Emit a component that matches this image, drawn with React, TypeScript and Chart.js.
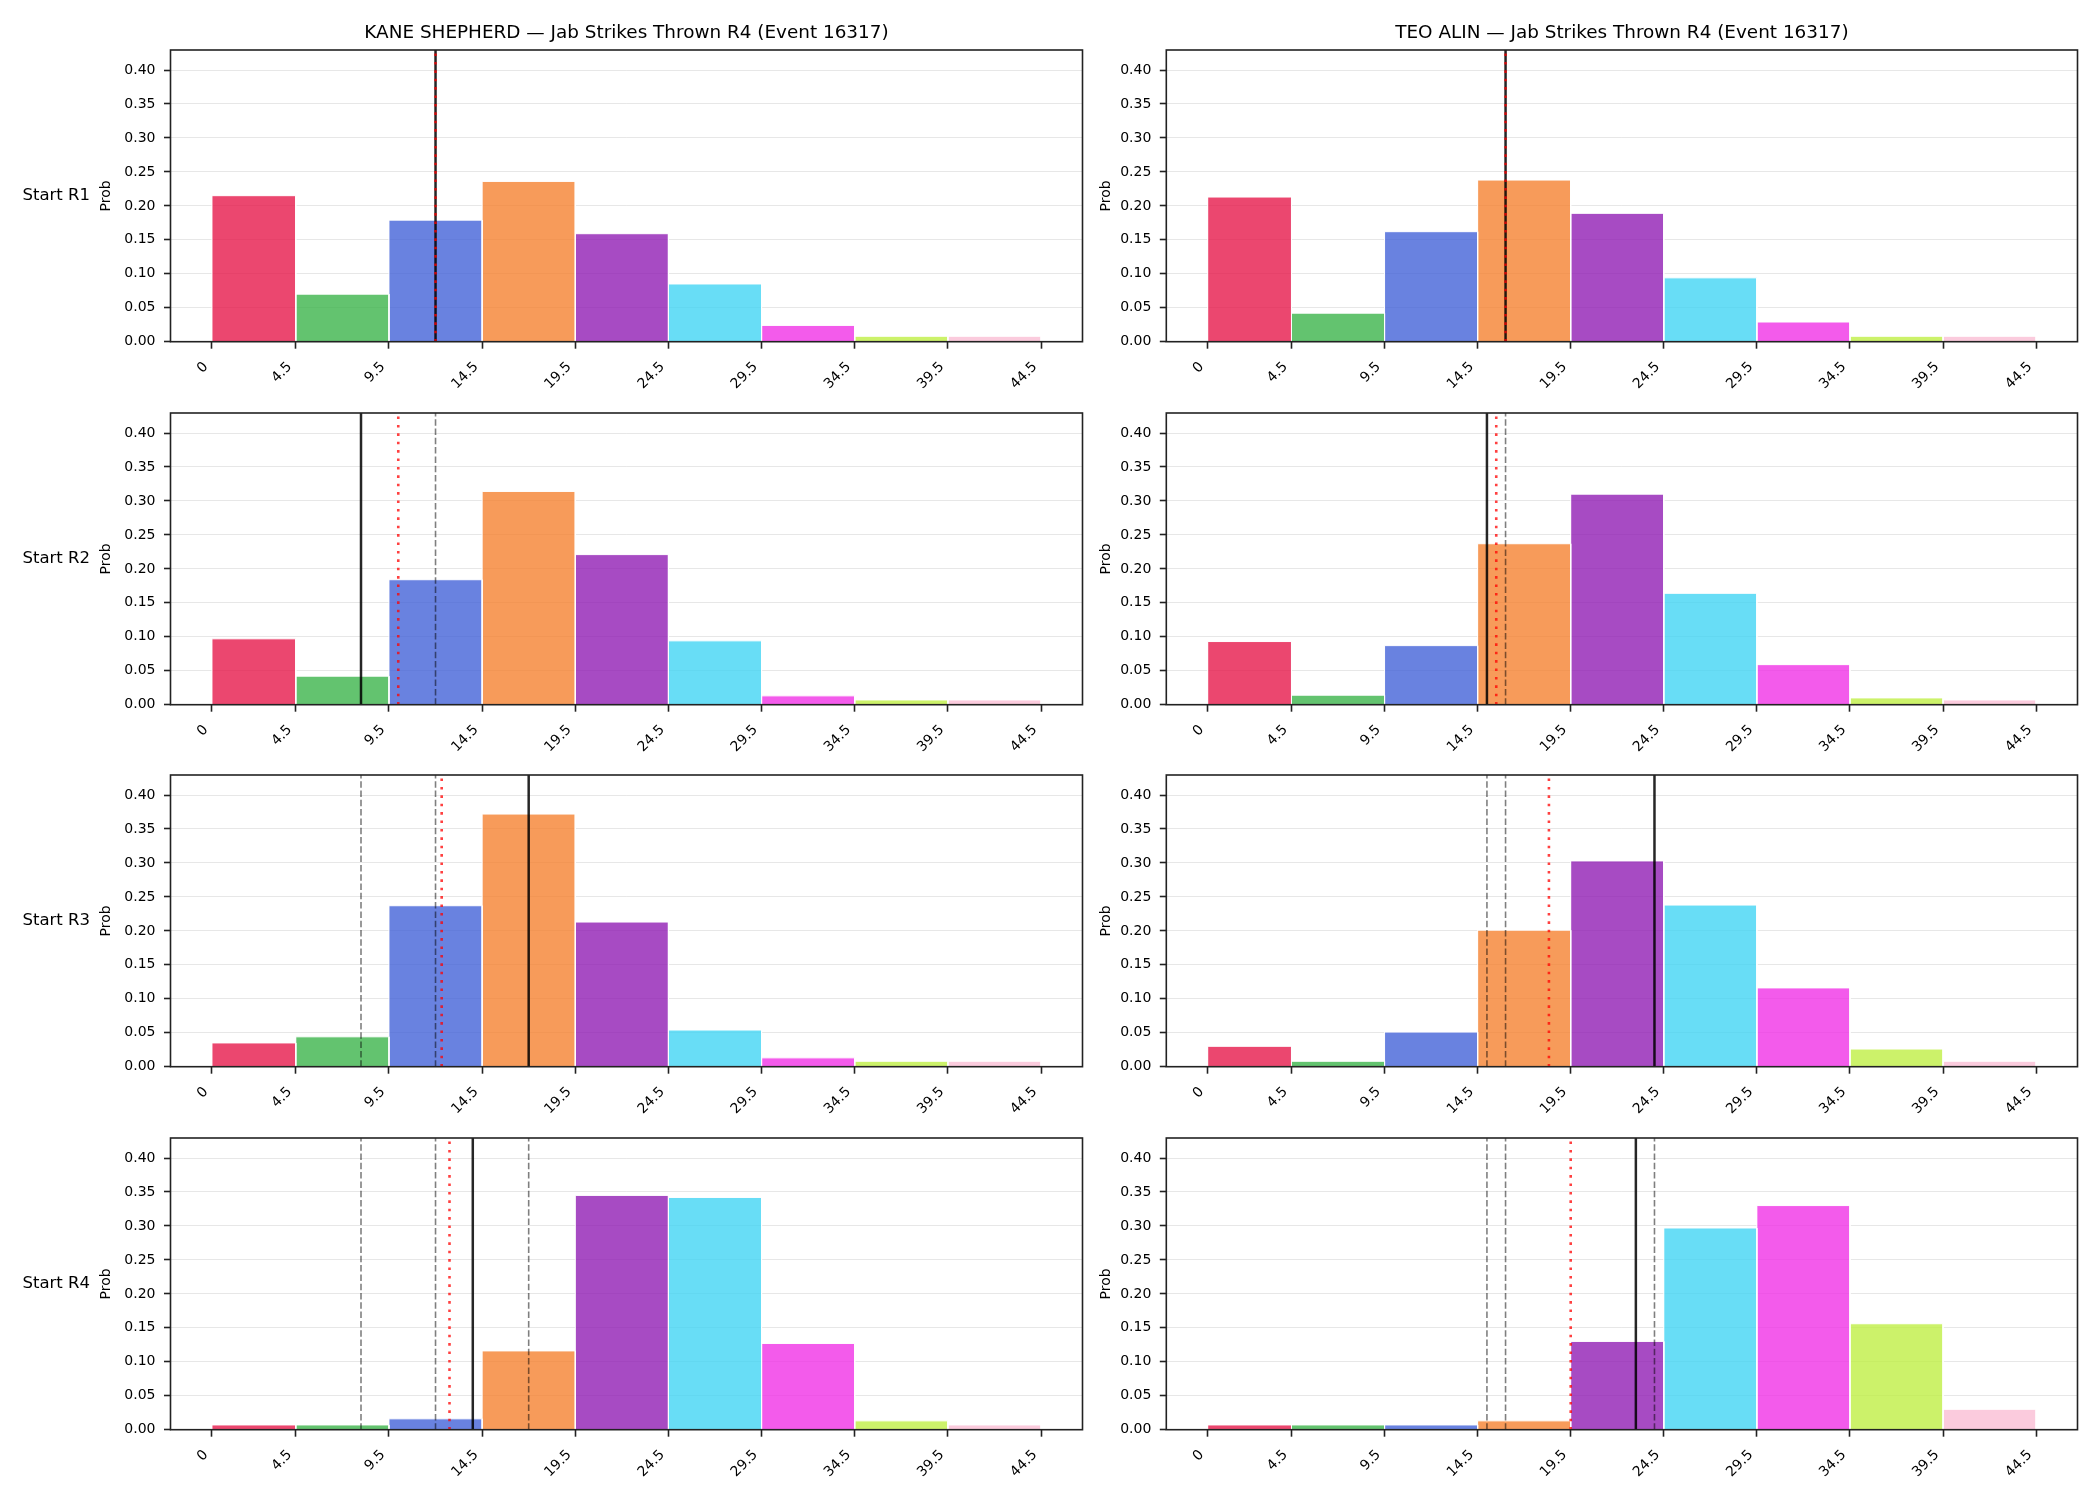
import React, { useEffect, useRef } from "react";
import { Chart, registerables } from "chart.js";

Chart.register(...registerables);

// ---------- data ----------
const binEdges = [0, 4.5, 9.5, 14.5, 19.5, 24.5, 29.5, 34.5, 39.5, 44.5];
const xTickLabels = ["0", "4.5", "9.5", "14.5", "19.5", "24.5", "29.5", "34.5", "39.5", "44.5"];
const yTickValues = [0, 0.05, 0.1, 0.15, 0.2, 0.25, 0.3, 0.35, 0.4];
const yTickLabels = ["0.00", "0.05", "0.10", "0.15", "0.20", "0.25", "0.30", "0.35", "0.40"];

const fighterNames = ["KANE SHEPHERD", "TEO ALIN"];
const titleSuffix = " — Jab Strikes Thrown R4 (Event 16317)";
const rowLabels = ["Start R1", "Start R2", "Start R3", "Start R4"];

const kaneR1 = [0.215, 0.070, 0.179, 0.236, 0.159, 0.085, 0.024, 0.008, 0.008];
const kaneR2 = [0.097, 0.042, 0.184, 0.314, 0.221, 0.094, 0.013, 0.007, 0.007];
const kaneR3 = [0.035, 0.044, 0.237, 0.372, 0.213, 0.054, 0.013, 0.008, 0.008];
const kaneR4 = [0.007, 0.007, 0.016, 0.116, 0.345, 0.342, 0.127, 0.013, 0.007];

const teoR1 = [0.213, 0.042, 0.162, 0.238, 0.189, 0.094, 0.029, 0.008, 0.008];
const teoR2 = [0.093, 0.014, 0.087, 0.237, 0.310, 0.164, 0.059, 0.010, 0.007];
const teoR3 = [0.030, 0.008, 0.051, 0.201, 0.303, 0.238, 0.116, 0.026, 0.008];
const teoR4 = [0.007, 0.007, 0.007, 0.013, 0.130, 0.297, 0.330, 0.156, 0.030];

// solid black line per start round; red dotted running mean
const kaneRoundMean = [12, 8, 17, 14];
const kaneRunningMean = [12, 10, 12.33, 12.75];
const teoRoundMean = [16, 15, 24, 23];
const teoRunningMean = [16, 15.5, 18.33, 19.5];

const kaneRounds = [kaneR1, kaneR2, kaneR3, kaneR4];
const teoRounds = [teoR1, teoR2, teoR3, teoR4];

// ---------- styles ----------
const binColors = [
  "rgba(230,25,75,0.8)",
  "rgba(60,180,75,0.8)",
  "rgba(67,99,216,0.8)",
  "rgba(245,130,49,0.8)",
  "rgba(145,30,180,0.8)",
  "rgba(66,212,244,0.8)",
  "rgba(240,50,230,0.8)",
  "rgba(191,239,69,0.8)",
  "rgba(250,190,212,0.8)",
];
const FONT = "'DejaVu Sans', 'Liberation Sans', sans-serif";
const Y_MAX = 0.4295;
const X_MIN = -2.225;
const X_MAX = 46.725;

// ---------- layout ----------
const rowTops = [50, 413, 775, 1138];
const PAD_TOP = 45;
const X_AXIS_H = 60;
const PAD_BOTTOM = 0.3;
const CANVAS_H = 397;
const colGeom = [
  { left: 0, w: 1100, padLeft: 97.6, yW: 72.9, padRight: 17.5 },
  { left: 1080, w: 1020, padLeft: 18.2, yW: 68.1, padRight: 22.5 },
];

const decorPlugin = {
  id: "decor",
  afterDraw(chart: any, _args: any, opts: any) {
    const { ctx, chartArea: a } = chart;
    ctx.save();
    ctx.strokeStyle = "#222";
    ctx.lineWidth = 1.6;
    ctx.strokeRect(a.left, a.top, a.right - a.left, a.bottom - a.top);
    ctx.fillStyle = "#000";
    ctx.textBaseline = "middle";
    if (opts && opts.title) {
      ctx.font = `18.4px ${FONT}`;
      ctx.textAlign = "center";
      ctx.fillText(opts.title, (a.left + a.right) / 2, a.top - 17);
    }
    if (opts && opts.rowLabel) {
      ctx.font = `16.5px ${FONT}`;
      ctx.textAlign = "right";
      ctx.fillText(opts.rowLabel, a.left - 80.5, (a.top + a.bottom) / 2);
    }
    ctx.restore();
  },
};

type PanelProps = {
  probs: number[];
  mean: number;
  running: number;
  prior: number[];
  title: string | null;
  rowLabel: string | null;
  col: number;
  row: number;
};

function Panel({ probs, mean, running, prior, title, rowLabel, col, row }: PanelProps) {
  const ref = useRef<HTMLCanvasElement>(null);
  const g = colGeom[col];
  const top = rowTops[row] - PAD_TOP;

  useEffect(() => {
    if (!ref.current) return;
    const datasets: any[] = [];
    datasets.push({
      data: [{ x: running, y: 0 }, { x: running, y: Y_MAX }],
      borderColor: "rgba(255,0,0,0.75)",
      borderWidth: 2.6,
      borderDash: [2.6, 5.8],
      borderCapStyle: "butt",
      pointRadius: 0,
      fill: false,
    });
    datasets.push({
      data: [{ x: mean, y: 0 }, { x: mean, y: Y_MAX }],
      borderColor: "rgba(0,0,0,0.85)",
      borderWidth: 2.5,
      pointRadius: 0,
      fill: false,
    });
    prior.forEach((v) => {
      datasets.push({
        data: [{ x: v, y: 0 }, { x: v, y: Y_MAX }],
        borderColor: "rgba(0,0,0,0.5)",
        borderWidth: 1.6,
        borderDash: [6.5, 2.8],
        borderCapStyle: "butt",
        pointRadius: 0,
        fill: false,
      });
    });
    probs.forEach((p, i) => {
      datasets.push({
        data: [
          { x: binEdges[i], y: 0 },
          { x: binEdges[i], y: p },
          { x: binEdges[i + 1], y: p },
          { x: binEdges[i + 1], y: 0 },
        ],
        backgroundColor: binColors[i],
        borderColor: "#ffffff",
        borderWidth: 1.0,
        pointRadius: 0,
        fill: "origin",
        tension: 0,
      });
    });

    const chart = new Chart(ref.current, {
      type: "line",
      data: { datasets },
      plugins: [decorPlugin as any],
      options: {
        animation: false,
        responsive: false,
        devicePixelRatio: 1,
        events: [],
        layout: {
          padding: { left: g.padLeft, right: g.padRight, top: PAD_TOP, bottom: PAD_BOTTOM },
        },
        plugins: {
          legend: { display: false },
          tooltip: { enabled: false },
          decor: { title, rowLabel },
        } as any,
        scales: {
          x: {
            type: "linear",
            min: X_MIN,
            max: X_MAX,
            afterBuildTicks: (s: any) => {
              s.ticks = binEdges.map((v) => ({ value: v }));
            },
            afterFit: (s: any) => {
              s.height = X_AXIS_H;
            },
            ticks: {
              autoSkip: false,
              minRotation: 45,
              maxRotation: 45,
              padding: 10,
              labelOffset: -6,
              color: "#000",
              font: { family: FONT, size: 14 },
              callback: (_v: any, i: number) => xTickLabels[i],
            },
            grid: {
              display: true,
              drawOnChartArea: false,
              drawTicks: true,
              tickLength: 7,
              tickColor: "#222",
              tickWidth: 1.6,
            },
            border: { display: false },
          },
          y: {
            type: "linear",
            min: 0,
            max: Y_MAX,
            z: 1,
            afterBuildTicks: (s: any) => {
              s.ticks = yTickValues.map((v) => ({ value: v }));
            },
            afterFit: (s: any) => {
              s.width = g.yW;
            },
            ticks: {
              autoSkip: false,
              padding: 8.5,
              color: "#000",
              font: { family: FONT, size: 14 },
              callback: (_v: any, i: number) => yTickLabels[i],
            },
            grid: {
              color: "rgba(176,176,176,0.3)",
              lineWidth: 1,
              drawTicks: true,
              tickLength: 6.5,
              tickColor: "#222",
              tickWidth: 1.6,
            },
            border: { display: false },
            title: {
              display: true,
              text: "Prob",
              color: "#000",
              font: { family: FONT, size: 14 },
              padding: 0,
            },
          },
        } as any,
      } as any,
    });
    return () => chart.destroy();
  }, []);

  return (
    <canvas
      ref={ref}
      width={g.w}
      height={CANVAS_H}
      style={{ position: "absolute", left: g.left, top, width: g.w, height: CANVAS_H, display: "block" }}
    />
  );
}

export default function App() {
  const panels: PanelProps[] = [];
  [kaneRounds, teoRounds].forEach((rounds, col) => {
    const means = col === 0 ? kaneRoundMean : teoRoundMean;
    const running = col === 0 ? kaneRunningMean : teoRunningMean;
    rounds.forEach((probs, row) => {
      panels.push({
        probs,
        mean: means[row],
        running: running[row],
        prior: means.slice(0, row),
        title: row === 0 ? fighterNames[col] + titleSuffix : null,
        rowLabel: col === 0 ? rowLabels[row] : null,
        col,
        row,
      });
    });
  });
  return (
    <div
      style={{
        position: "absolute",
        left: 0,
        top: 0,
        width: 2100,
        height: 1500,
        background: "#ffffff",
        overflow: "hidden",
      }}
    >
      {panels.map((p) => (
        <Panel key={`${p.col}-${p.row}`} {...p} />
      ))}
    </div>
  );
}
